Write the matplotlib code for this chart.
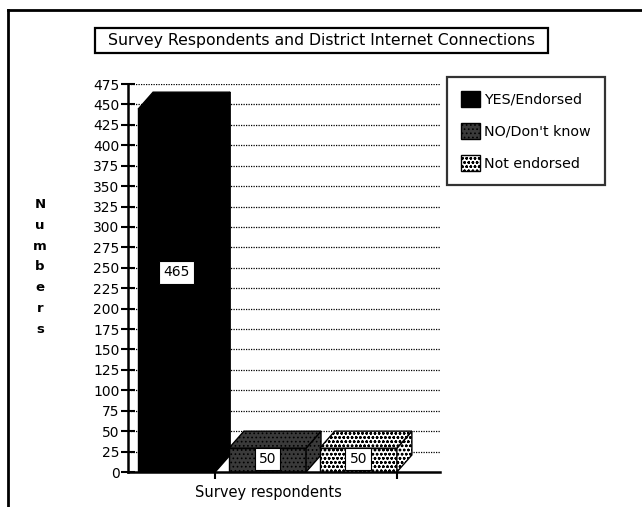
import matplotlib
matplotlib.use("Agg")
import matplotlib.pyplot as plt
from matplotlib.patches import Polygon, Rectangle, Patch
from matplotlib.lines import Line2D

plt.rcParams['font.family'] = ['DejaVu Sans']
plt.rcParams['hatch.linewidth'] = 0.7

title = "Survey Respondents and District Internet Connections"
category = "Survey respondents"
series = ["YES/Endorsed", "NO/Don't know", "Not endorsed"]
values = [465, 50, 50]
y_ticks = list(range(0, 476, 25))
y_label = "Numbers"

faces = [
    dict(facecolor="black", hatch=None),
    dict(facecolor="#3a3a3a", hatch="...."),
    dict(facecolor="white", hatch="oooo"),
]

W, H = 642, 507
fig = plt.figure(figsize=(W / 100, H / 100), dpi=100)

# plot area in pixel terms
px_l, px_r, px_top, px_bot = 128, 440, 84, 472
ax = fig.add_axes([px_l / W, (H - px_bot) / H, (px_r - px_l) / W, (px_bot - px_top) / H])
ax.set_xlim(-0.5, 2.9)
ax.set_ylim(0, 475)

# depth of the pseudo-3D bars, in data units (about 15 px each way)
x_per_px = 3.4 / (px_r - px_l)
y_per_px = 475 / (px_bot - px_top)
dx = 15 * x_per_px
dy = 17 * y_per_px
width = 0.84
step = 0.99
first = 0.03

lefts = []
for i, (v, st) in enumerate(zip(values, faces)):
    x0 = first + i * step - width / 2
    x1 = x0 + width
    lefts.append(x0)
    top_f = v - dy
    common = dict(edgecolor="black", linewidth=1.0, zorder=3)
    front = Polygon([(x0, 0), (x1, 0), (x1, top_f), (x0, top_f)],
                    facecolor=st["facecolor"], hatch=st["hatch"], **common)
    top = Polygon([(x0, top_f), (x1, top_f), (x1 + dx, v), (x0 + dx, v)],
                  facecolor=st["facecolor"], hatch=st["hatch"], **common)
    side = Polygon([(x1, 0), (x1 + dx, dy), (x1 + dx, v), (x1, top_f)],
                   facecolor=st["facecolor"], hatch=st["hatch"], **common)
    for p in (front, side, top):
        ax.add_patch(p)
    ax.text((x0 + x1) / 2, top_f * 0.55, str(v), ha="center", va="center",
            fontsize=10, zorder=5,
            bbox=dict(boxstyle="square,pad=0.3", facecolor="white",
                      edgecolor="black", linewidth=0.8))

# horizontal grid
for t in y_ticks[1:]:
    ax.axhline(t, color="black", linewidth=0.9, linestyle=(0, (1, 1)), zorder=1)

ax.set_yticks(y_ticks)
ax.set_yticklabels([str(t) for t in y_ticks], fontsize=10)
ax.tick_params(axis="y", direction="inout", length=10, width=1.5, pad=1)
ax.set_xticks([lefts[0] + width, lefts[2] + width])
ax.set_xticklabels([])
ax.tick_params(axis="x", direction="out", length=5, width=1.5)
for s in ("top", "right"):
    ax.spines[s].set_visible(False)
ax.spines["left"].set_linewidth(1.8)
ax.spines["bottom"].set_linewidth(1.8)
ax.spines["bottom"].set_zorder(6)

fig.text(268 / W, 1 - 492 / H, category, ha="center", va="center", fontsize=10.5)
fig.text(40 / W, 1 - 267 / H, "\n".join(y_label), ha="center", va="center",
         fontsize=9.5, linespacing=1.78, fontweight="bold")

# title box
fig.add_artist(Rectangle((95 / W, 1 - 53 / H), 453 / W, 25 / H, transform=fig.transFigure,
                         facecolor="white", edgecolor="black", linewidth=1.6))
fig.text(321 / W, 1 - 41 / H, title, ha="center", va="center", fontsize=11.3)

# outer frame (left and top edges)
fig.add_artist(Line2D([8 / W, 8 / W], [0, 1 - 10 / H], transform=fig.transFigure,
                      color="black", linewidth=2))
fig.add_artist(Line2D([8 / W, 1], [1 - 10 / H, 1 - 10 / H], transform=fig.transFigure,
                      color="black", linewidth=2))

handles = [Patch(facecolor=st["facecolor"], hatch=st["hatch"], edgecolor="black")
           for st in faces]
leg = fig.legend(handles, series, loc="upper left",
                 bbox_to_anchor=(447 / W, 1 - 77 / H), fontsize=10.3,
                 frameon=True, fancybox=False, handlelength=1.3, handleheight=1.3,
                 handletextpad=0.3, labelspacing=1.15, borderpad=1.0,
                 borderaxespad=0)
leg.get_frame().set_edgecolor("black")
leg.get_frame().set_linewidth(1.6)

fig.savefig("out.png", dpi=100)
